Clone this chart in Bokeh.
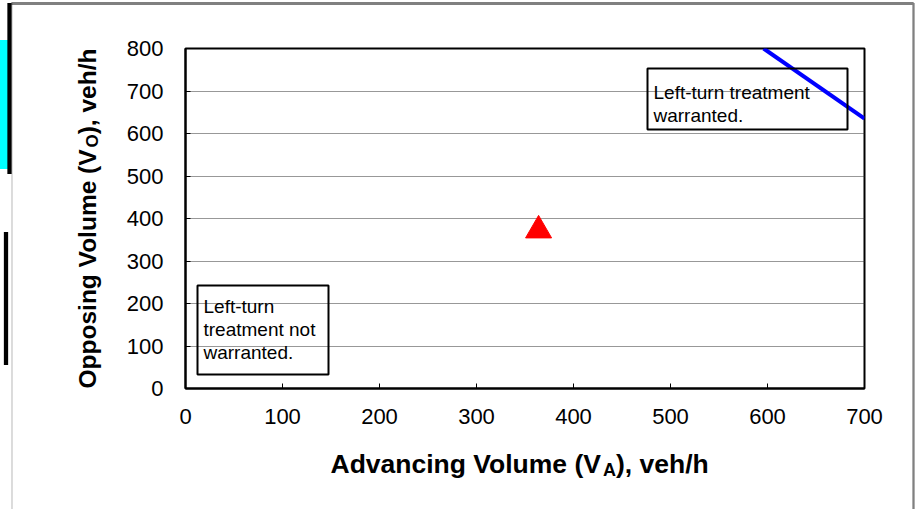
import math
from bokeh.plotting import figure
from bokeh.models import Range1d, FixedTicker, Label, BoxAnnotation
from bokeh.embed import file_html
from bokeh.resources import INLINE

# ---- data ----
boundary_va = [596, 700]          # warrant boundary curve, advancing volume (veh/h)
boundary_vo = [800, 635]          # warrant boundary curve, opposing volume (veh/h)
point_va = [364]                  # observed advancing volume
point_vo = [372]                  # observed opposing volume
x_ticks = [0, 100, 200, 300, 400, 500, 600, 700]
y_ticks = [0, 100, 200, 300, 400, 500, 600, 700, 800]
grid_ticks = [100, 200, 300, 400, 500, 600, 700]

FONT = "Liberation Sans"
W, H = 921, 509
FL, FT, FR, FB = 185, 48, 864, 388   # plot frame inside the figure (px)

p = figure(width=W, height=H, x_range=Range1d(0, 700), y_range=Range1d(0, 800),
           output_backend="svg", toolbar_location=None,
           min_border_left=FL, min_border_right=W - FR,
           min_border_top=FT, min_border_bottom=H - FB)
p.background_fill_color = "white"
p.border_fill_color = "white"
p.outline_line_color = "black"
p.outline_line_width = 2

for ax, ticks in ((p.xaxis, x_ticks), (p.yaxis, y_ticks)):
    ax.ticker = FixedTicker(ticks=ticks)
    ax.axis_line_color = "black"
    ax.axis_line_width = 2
    ax.major_tick_in = 5
    ax.major_tick_out = 0
    ax.major_tick_line_width = 1
    ax.minor_tick_line_color = None
    ax.major_label_text_font = FONT
    ax.major_label_text_font_size = "22px"
    ax.major_label_text_color = "black"
p.xaxis.major_label_standoff = 20
p.yaxis.major_label_standoff = 22

p.xgrid.visible = False
p.ygrid.ticker = FixedTicker(ticks=grid_ticks)
p.ygrid.grid_line_color = "#303030"
p.ygrid.grid_line_dash = "1 1"
p.ygrid.grid_line_width = 1

# marks
p.line(boundary_va, boundary_vo, line_color="#0000ff", line_width=4)
p.scatter(point_va, point_vo, marker="triangle", size=26, fill_color="#ff0000",
          line_color="#ff0000")

# helpers: page pixel -> data
sx = (FR - FL) / 700.0
sy = (FB - FT) / 800.0
def dx(px):
    return (px - FL) / sx
def dy(py):
    return (FB - py) / sy

# annotation boxes
for (l, r, t, b) in ((647, 847, 68, 129), (197, 328, 285, 374)):
    p.add_layout(BoxAnnotation(left=dx(l), right=dx(r), top=dy(t), bottom=dy(b),
                               fill_alpha=0, line_color="black", line_width=2,
                               line_alpha=1, level="overlay"))

def add_text(txt, px, py, size, bold=False, angle=0.0, place="center"):
    p.add_layout(Label(text=txt, x=dx(px), y=dy(py), text_font=FONT,
                       text_font_size=size, text_font_style="bold" if bold else "normal",
                       text_align="left", text_baseline="alphabetic",
                       angle=angle, text_color="black"), place)

for i, line in enumerate(["Left-turn treatment", "warranted."]):
    add_text(line, 653, 92 + i * 22.5, "19px")
for i, line in enumerate(["Left-turn", "treatment not", "warranted."]):
    add_text(line, 203, 306 + i * 23, "19px")

# Arial/Liberation Sans Bold advance widths (per 1000 em)
BW = {'A': 722, 'd': 611, 'v': 556, 'a': 556, 'n': 611, 'c': 556, 'i': 278, 'g': 611,
      ' ': 278, 'V': 667, 'o': 611, 'l': 278, 'u': 611, 'm': 889, 'e': 556, '(': 333,
      ')': 333, ',': 278, 'h': 611, '/': 278, 'O': 778, 'p': 611, 's': 556}
def bw(s, size):
    return sum(BW.get(c, 600) for c in s) * size / 1000.0

# x axis title with subscript
xs0, xb, fs, fsub = 330, 463, 26.5, 18
add_text("Advancing Volume (V", xs0, xb, f"{fs}px", bold=True, place="below")
x1 = xs0 + bw("Advancing Volume (V", fs)
add_text("A", x1, xb + 6, f"{fsub}px", bold=True, place="below")
x2 = x1 + bw("A", fsub)
add_text("), veh/h", x2, xb, f"{fs}px", bold=True, place="below")

# y axis title with subscript (rotated)
yb, ys0, fs, fsub = 87, 388, 24.5, 17
add_text("Opposing Volume (V", yb, ys0, f"{fs}px", bold=True, angle=math.pi / 2, place="left")
y1 = ys0 - bw("Opposing Volume (V", fs)
add_text("O", yb + 5, y1, f"{fsub}px", bold=True, angle=math.pi / 2, place="left")
y2 = y1 - bw("O", fsub)
add_text("), veh/h", yb, y2, f"{fs}px", bold=True, angle=math.pi / 2, place="left")

# edge decoration of the original worksheet (plain rectangles, kept few so the
# side panels keep their size)
def rect(x0, x1, y0, y1, color, place):
    hw = max(int(round((x1 - x0) / 2.0)), 0)
    hh = max(int(round((y1 - y0) / 2.0)), 0)
    p.add_layout(Label(x=dx((x0 + x1) / 2.0), y=dy((y0 + y1) / 2.0), text=" ",
                       text_font_size="1px", text_align="center", text_baseline="middle",
                       background_fill_color=color, background_fill_alpha=1,
                       border_line_color=None,
                       padding=dict(left=hw, right=hw, top=hh, bottom=hh)), place)

rect(0, 7, 40, 168, "#00ffff", "left")
rect(7, 11, 3, 173, "black", "left")
rect(3, 8, 232, 364, "black", "left")
rect(11, 12, 3, 509, "black", "left")
rect(11, 913, 2, 4, "#808080", "above")
rect(912, 914, 3, 509, "#808080", "right")

open("out.html", "w").write(file_html(p, INLINE))
